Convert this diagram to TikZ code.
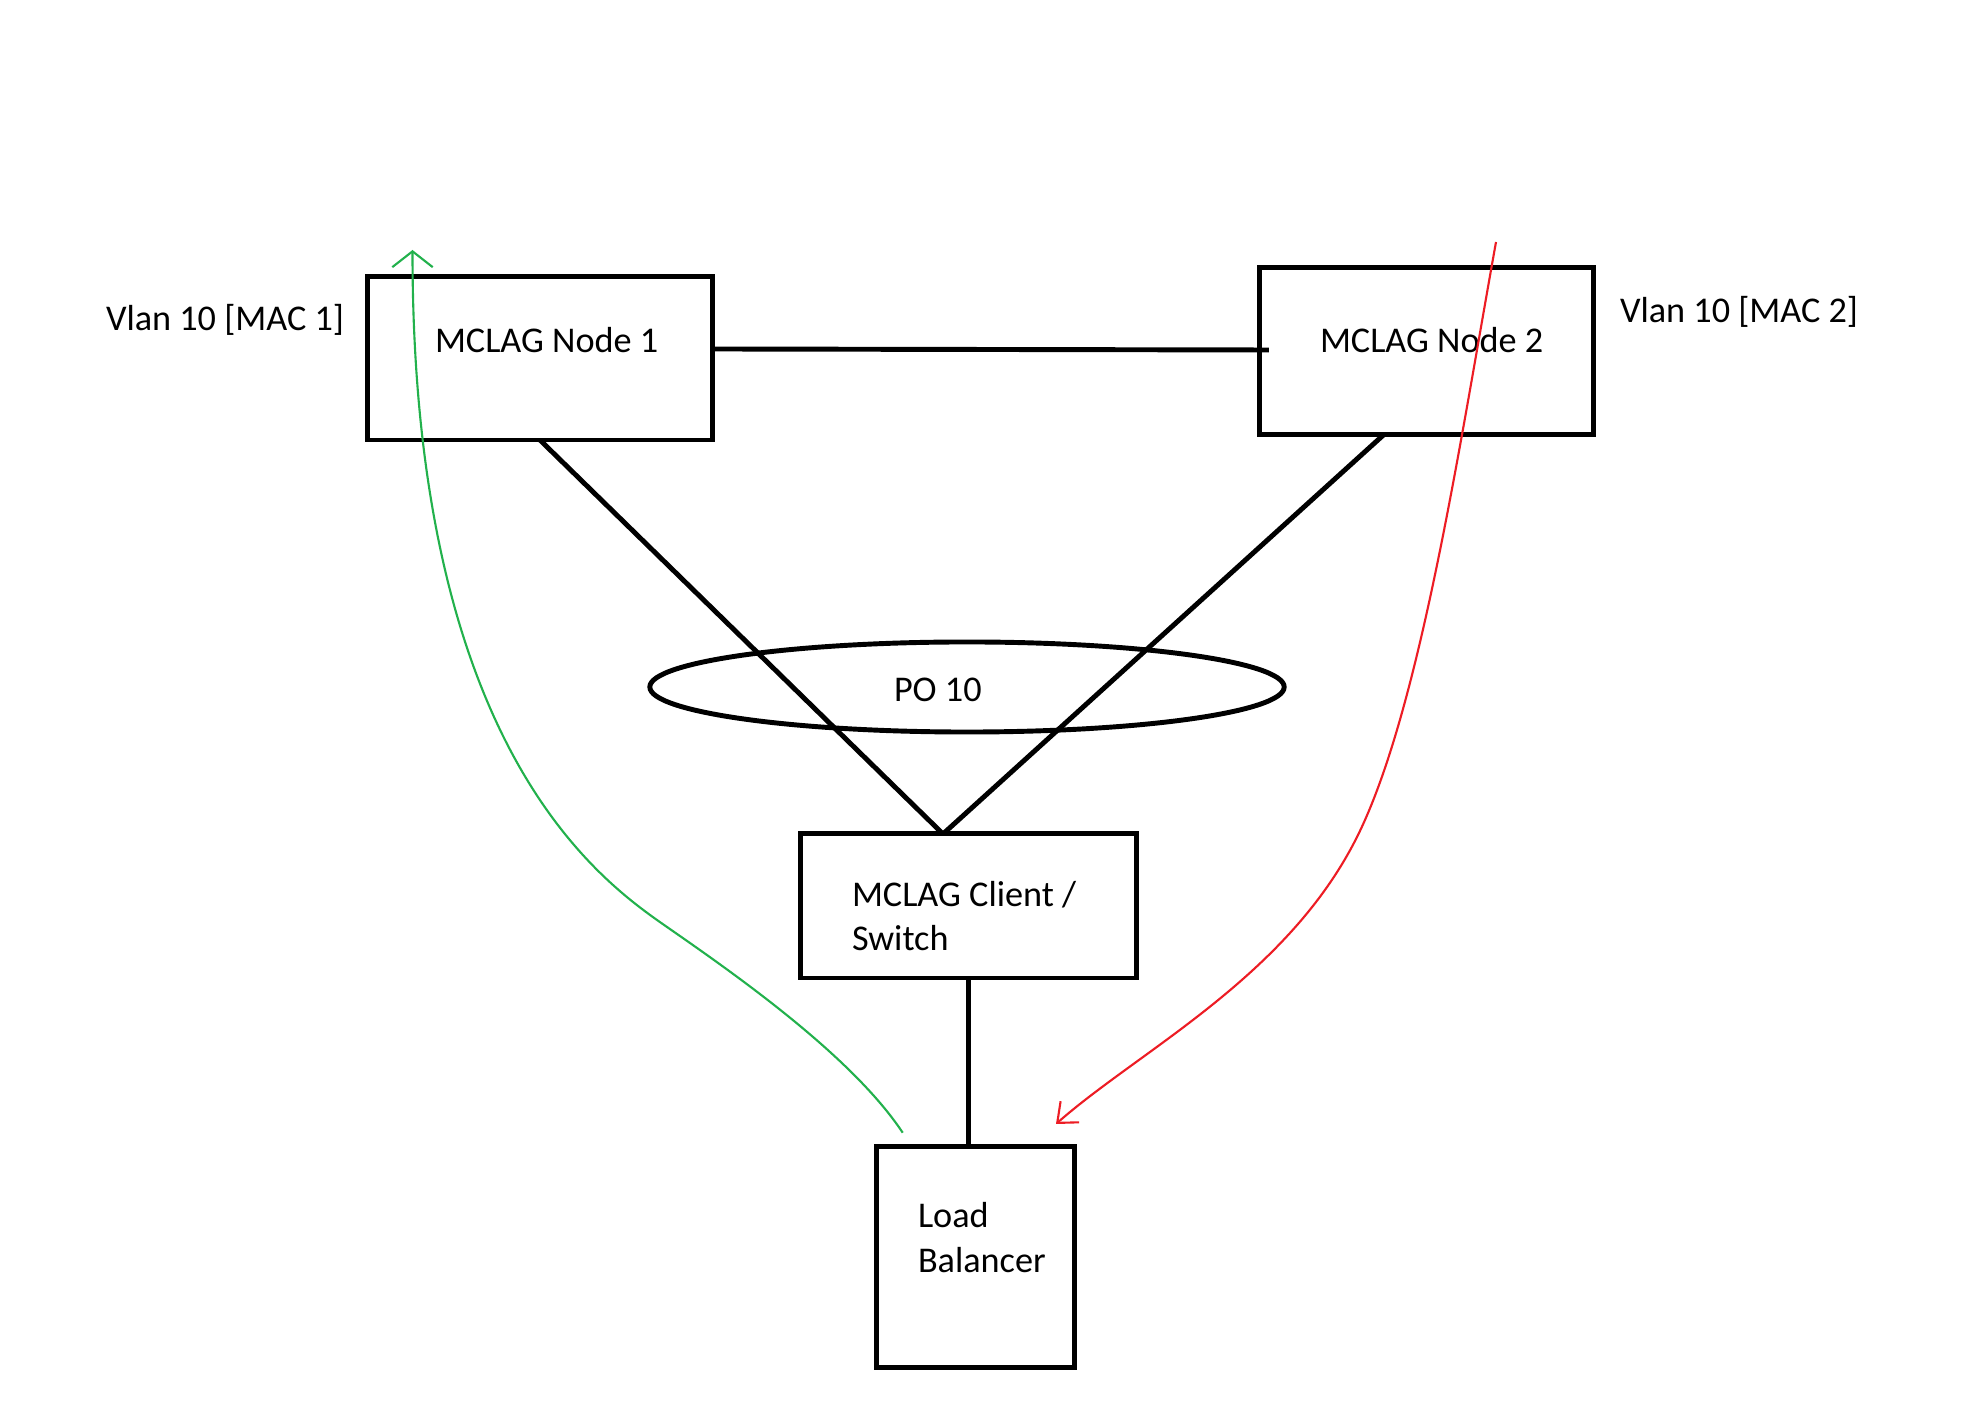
\documentclass[tikz,border=0pt]{standalone}
\usepackage{fontspec}
\setmainfont{Carlito}
\usetikzlibrary{arrows.meta,shapes.geometric}
\definecolor{pgreen}{RGB}{34,177,76}
\definecolor{pred}{RGB}{237,28,36}
\begin{document}
\begin{tikzpicture}[x=0.01cm,y=-0.01cm,
  box/.style={draw, rectangle, line width=1.4pt, inner sep=0pt, outer sep=0pt},
  wire/.style={line width=1.4pt},
  lbl/.style={anchor=base west, inner sep=0pt, outer sep=0pt, font=\fontsize{10.3}{12}\selectfont},
  flow/.style={line width=0.6pt},
]
\useasboundingbox[fill=white] (0,0) rectangle (1975,1407);

% boxes
\node[box, minimum width=3.44cm, minimum height=1.63cm] (n1) at (540,358.5) {};
\node[box, minimum width=3.33cm, minimum height=1.66cm] (n2) at (1426.5,351) {};
\node[box, minimum width=3.35cm, minimum height=1.44cm] (cl) at (968.5,906) {};
\node[box, minimum width=1.97cm, minimum height=2.20cm] (lb) at (975.5,1257) {};
\node[draw, ellipse, line width=1.4pt, minimum width=6.34cm, minimum height=0.90cm, inner sep=0pt] (po) at (967,687) {};

% texts
\node[lbl] (t1) at (106,331) {Vlan 10 [MAC 1]};
\node[lbl] (t2) at (435,353) {MCLAG Node 1};
\node[lbl] (t3) at (1320,353) {MCLAG Node 2};
\node[lbl] (t4) at (1620,323) {Vlan 10 [MAC 2]};
\node[lbl] (t5) at (894,702) {PO 10};
\node[lbl] (t6) at (852,907) {MCLAG Client /};
\node[lbl] (t7) at (852,951) {Switch};
\node[lbl] (t8) at (918,1228) {Load};
\node[lbl] (t9) at (918,1273) {Balancer};

% connectors
\draw[wire] ([yshift=0.095cm]n1.east) -- ([xshift=0.09cm,yshift=0.01cm]n2.west);
\draw[wire] (n1.south) -- ([xshift=-0.255cm]cl.north);
\draw[wire] ([xshift=-0.42cm]n2.south) -- ([xshift=-0.255cm]cl.north);
\draw[wire] (cl.south) -- (cl.south |- lb.north);

% flows
\coordinate (gs) at (902.7,1132.7);
\coordinate (gm) at (667,927);
\coordinate (ge) at (412.5,250);
\draw[flow, pgreen, -{Straight Barb[length=4.5pt,width=11.5pt]}]
  (gs) .. controls (851.4,1055.2) and (732.6,972.6) .. (gm)
       .. controls (601.4,881.4) and (412.5,750) .. (ge);

\coordinate (rs) at (1496,242);
\coordinate (rm) at (1357,837);
\coordinate (re) at (1056,1124);
\draw[flow, pred, -{Straight Barb[length=4.8pt,width=8pt]}]
  (rs) .. controls (1460,442) and (1419.6,711.8) .. (rm)
       .. controls (1287,977) and (1140,1050) .. (re);
\end{tikzpicture}
\end{document}
